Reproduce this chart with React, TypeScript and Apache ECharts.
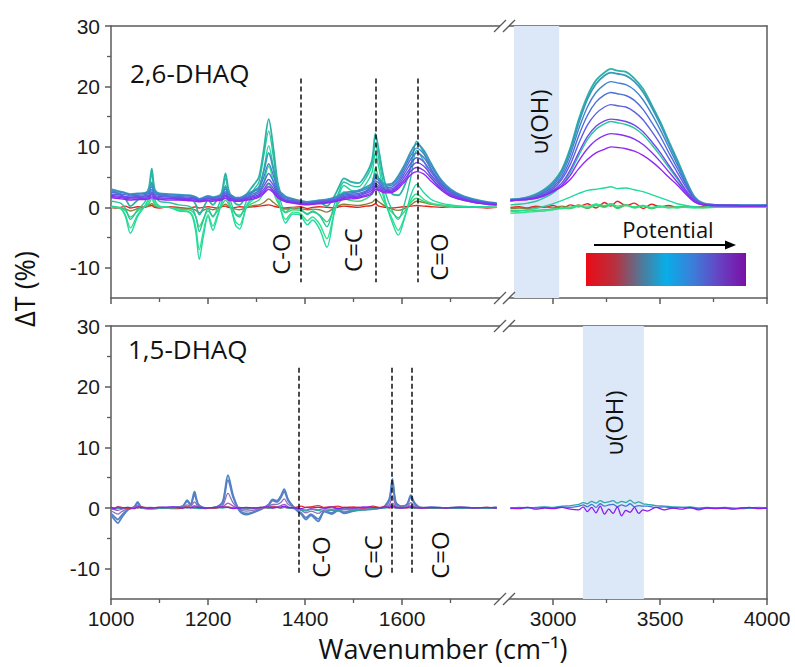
import React, { useEffect, useRef } from "react";
import * as echarts from "echarts";

// ---------------- DATA ----------------
// Wavenumber grid, fingerprint region (top panel, 2,6-DHAQ)
const XL = [
  1000, 1010, 1020, 1030, 1040, 1055, 1070, 1078,
  1084, 1090, 1100, 1120, 1140, 1160, 1168, 1175,
  1182, 1190, 1200, 1210, 1218, 1228, 1236, 1242,
  1250, 1257, 1265, 1280, 1295, 1305, 1315, 1325,
  1335, 1345, 1360, 1375, 1390, 1405, 1415, 1430,
  1445, 1460, 1470, 1480, 1495, 1510, 1525, 1538,
  1545, 1552, 1565, 1580, 1592, 1605, 1618, 1630,
  1645, 1660, 1680, 1700, 1725, 1750, 1775, 1795,
];

const TL0 = [
  0.1, -0.1, 0.0, 0.2, -0.1, 0.1, 0.0, 0.2,
  0.3, 0.0, -0.1, 0.1, 0.0, -0.2, 0.0, 0.1,
  -0.1, 0.0, 0.1, 0.0, -0.1, 0.1, 0.2, 0.0,
  -0.1, 0.0, 0.1, 0.0, 0.1, 0.2, 0.3, 0.4,
  0.2, 0.0, -0.1, 0.0, 0.1, -0.2, 0.0, 0.1,
  0.0, -0.1, 0.1, 0.2, 0.1, 0.0, 0.2, 0.3,
  0.6, 0.2, 0.0, -0.1, 0.0, 0.1, 0.2, 0.3,
  0.2, 0.1, 0.0, 0.1, 0.0, 0.0, -0.1, 0.0,
];
const TL1 = [
  -0.1, 0.0, -0.2, -0.3, -0.6, -0.2, 0.1, 0.3,
  0.6, 0.2, 0.0, 0.0, -0.1, -0.2, -0.3, -0.5,
  -0.9, -0.5, -0.2, -0.4, -0.2, 0.1, 0.5, 0.2,
  -0.1, -0.3, -0.4, 0.0, 0.3, 0.4, 0.8, 1.4,
  0.8, 0.2, -0.3, -0.1, -0.2, -0.4, -0.3, -0.4,
  -0.8, -0.1, 0.3, 0.5, 0.4, 0.3, 0.5, 0.8,
  1.3, 0.9, 0.2, -0.3, -0.5, -0.2, 0.4, 1.0,
  0.8, 0.5, 0.3, 0.2, 0.1, 0.1, 0.0, 0.0,
];
const TL2 = [
  0.0, 0.0, -0.1, -0.6, -1.6, -0.6, 0.1, 0.6,
  1.4, 0.5, 0.0, 0.0, -0.3, -0.4, -0.7, -1.6,
  -3.2, -2.0, -0.6, -1.4, -0.8, 0.3, 1.2, 0.6,
  -0.4, -1.1, -1.3, 0.1, 0.8, 1.2, 2.4, 3.8,
  2.4, 0.6, -0.9, -0.4, -0.5, -1.0, -0.8, -1.3,
  -2.4, -0.4, 0.8, 1.4, 1.1, 1.0, 1.4, 2.2,
  3.6, 2.6, 0.5, -0.9, -1.7, -0.7, 0.8, 1.5,
  1.0, 0.6, 0.3, 0.2, 0.1, 0.1, 0.0, 0.0,
];
const TL3 = [
  0.1, 0.0, -0.2, -1.3, -3.4, -1.2, 0.2, 1.0,
  2.6, 0.8, 0.1, 0.0, -0.5, -0.7, -1.3, -3.4,
  -7.0, -4.1, -1.2, -3.1, -1.6, 0.6, 2.4, 1.0,
  -0.8, -2.4, -2.9, 0.2, 1.4, 2.0, 4.2, 6.8,
  4.2, 1.0, -2.0, -0.8, -1.0, -2.2, -1.6, -2.8,
  -5.2, -0.8, 1.4, 2.6, 2.0, 1.8, 2.6, 4.0,
  6.5, 4.6, 0.8, -2.0, -3.8, -1.6, 1.2, 2.2,
  1.3, 0.7, 0.4, 0.2, 0.1, 0.1, 0.0, 0.0,
];
const TL4 = [
  0.2, 0.1, -0.1, -1.6, -4.3, -1.5, 0.3, 1.6,
  4.2, 1.4, 0.2, 0.0, -0.6, -0.8, -1.6, -4.2,
  -8.6, -5.0, -1.5, -3.8, -2.0, 0.9, 3.6, 1.5,
  -1.0, -3.0, -3.6, 0.4, 2.0, 3.0, 6.3, 10.2,
  6.4, 1.6, -2.6, -1.1, -1.3, -2.9, -2.1, -3.6,
  -6.6, -1.0, 2.0, 3.6, 2.8, 2.6, 3.8, 5.8,
  9.0, 6.6, 1.2, -2.6, -4.6, -1.8, 2.0, 3.8,
  2.4, 1.3, 0.7, 0.4, 0.2, 0.1, 0.1, 0.0,
];
const TL5 = [
  1.0, 0.9, 0.7, -0.2, -2.0, -0.4, 0.9, 2.6,
  5.6, 2.2, 1.0, 0.8, 0.4, 0.2, -0.2, -1.6,
  -4.0, -2.2, -0.2, -1.6, -0.4, 1.8, 4.8, 2.4,
  0.2, -1.2, -1.6, 1.2, 3.0, 4.2, 8.6, 12.6,
  8.2, 2.6, -0.8, 0.0, -0.2, -1.2, -0.6, -1.4,
  -3.2, 0.4, 2.6, 4.2, 3.6, 3.4, 4.8, 7.0,
  10.6, 8.0, 2.6, -0.6, -2.0, 0.6, 5.0, 9.4,
  7.6, 5.0, 3.0, 1.9, 1.2, 0.8, 0.5, 0.4,
];
const TL6 = [
  2.6, 2.4, 2.2, 1.4, 0.2, 1.2, 2.0, 3.2,
  6.4, 3.0, 2.0, 1.8, 1.6, 1.4, 1.2, 0.4,
  -1.2, -0.2, 1.2, 0.4, 1.2, 2.4, 5.6, 3.0,
  1.4, 0.6, 0.4, 2.2, 3.8, 5.0, 9.6, 14.6,
  9.6, 3.6, 1.0, 1.2, 1.0, 0.6, 1.0, 0.8,
  0.2, 1.8, 3.4, 4.8, 4.2, 4.0, 5.4, 7.8,
  12.2, 9.4, 4.0, 2.2, 2.0, 3.6, 6.8, 10.9,
  9.0, 6.2, 3.8, 2.6, 1.6, 1.1, 0.7, 0.6,
];
const TL7 = [
  3.0, 2.8, 2.6, 2.4, 2.2, 2.3, 2.4, 2.8,
  4.0, 2.8, 2.3, 2.2, 2.1, 2.0, 1.9, 1.7,
  1.4, 1.6, 1.9, 1.7, 1.8, 2.2, 3.4, 2.4,
  1.9, 1.6, 1.6, 2.2, 2.8, 3.4, 6.0, 9.0,
  6.2, 3.0, 1.8, 1.4, 1.1, 0.9, 1.0, 1.2,
  1.3, 1.6, 2.0, 2.4, 2.6, 2.8, 3.3, 4.0,
  5.6, 4.8, 3.8, 4.0, 5.2, 7.0, 9.2, 10.5,
  9.4, 7.2, 4.6, 3.0, 1.9, 1.3, 0.9, 0.7,
];
const TL8 = [
  2.8, 2.6, 2.5, 2.3, 2.1, 2.2, 2.3, 2.6,
  3.4, 2.5, 2.2, 2.1, 2.0, 1.9, 1.8, 1.6,
  1.4, 1.5, 1.8, 1.6, 1.7, 2.0, 3.0, 2.2,
  1.8, 1.5, 1.5, 2.0, 2.6, 3.1, 5.0, 7.2,
  5.2, 2.7, 1.6, 1.3, 1.0, 0.8, 0.9, 1.1,
  1.2, 1.5, 1.8, 2.2, 2.4, 2.6, 3.0, 3.7,
  5.0, 4.4, 3.5, 3.7, 4.8, 6.6, 8.6, 9.8,
  8.8, 6.8, 4.4, 2.8, 1.8, 1.2, 0.8, 0.6,
];
const TL9 = [
  2.5, 2.4, 2.2, 2.1, 1.9, 2.0, 2.1, 2.3,
  2.9, 2.2, 2.0, 1.9, 1.8, 1.7, 1.6, 1.5,
  1.3, 1.4, 1.6, 1.5, 1.6, 1.8, 2.6, 2.0,
  1.6, 1.4, 1.4, 1.8, 2.3, 2.7, 4.1, 5.6,
  4.2, 2.4, 1.4, 1.1, 0.9, 0.7, 0.8, 1.0,
  1.1, 1.3, 1.6, 2.0, 2.2, 2.3, 2.7, 3.4,
  4.4, 4.0, 3.2, 3.4, 4.4, 6.1, 8.0, 9.0,
  8.2, 6.3, 4.1, 2.6, 1.7, 1.1, 0.8, 0.6,
];
const TL10 = [
  2.2, 2.1, 2.0, 1.8, 1.7, 1.8, 1.9, 2.0,
  2.5, 2.0, 1.8, 1.7, 1.6, 1.5, 1.5, 1.4,
  1.2, 1.3, 1.5, 1.4, 1.4, 1.6, 2.3, 1.8,
  1.5, 1.3, 1.3, 1.6, 2.0, 2.4, 3.5, 4.6,
  3.6, 2.1, 1.2, 1.0, 0.8, 0.6, 0.7, 0.9,
  1.0, 1.2, 1.5, 1.8, 2.0, 2.1, 2.5, 3.1,
  4.0, 3.6, 3.0, 3.1, 4.0, 5.6, 7.3, 8.2,
  7.5, 5.8, 3.8, 2.4, 1.5, 1.0, 0.7, 0.5,
];
const TL11 = [
  2.0, 1.9, 1.8, 1.7, 1.6, 1.6, 1.7, 1.8,
  2.2, 1.8, 1.6, 1.5, 1.5, 1.4, 1.4, 1.3,
  1.1, 1.2, 1.4, 1.3, 1.3, 1.5, 2.0, 1.6,
  1.4, 1.2, 1.2, 1.5, 1.8, 2.1, 3.0, 4.0,
  3.1, 1.9, 1.1, 0.9, 0.7, 0.5, 0.6, 0.8,
  0.9, 1.1, 1.3, 1.6, 1.8, 1.9, 2.3, 2.8,
  3.6, 3.3, 2.8, 2.9, 3.7, 5.1, 6.6, 7.4,
  6.8, 5.3, 3.5, 2.2, 1.4, 0.9, 0.6, 0.5,
];
const TL12 = [
  1.8, 1.7, 1.6, 1.5, 1.4, 1.4, 1.5, 1.6,
  1.9, 1.6, 1.4, 1.4, 1.3, 1.3, 1.2, 1.2,
  1.0, 1.1, 1.2, 1.2, 1.2, 1.3, 1.8, 1.4,
  1.2, 1.1, 1.1, 1.3, 1.6, 1.9, 2.6, 3.4,
  2.7, 1.7, 1.0, 0.8, 0.6, 0.5, 0.5, 0.7,
  0.8, 1.0, 1.2, 1.5, 1.6, 1.7, 2.0, 2.5,
  3.3, 3.0, 2.6, 2.7, 3.4, 4.6, 6.0, 6.6,
  6.1, 4.8, 3.2, 2.0, 1.3, 0.8, 0.6, 0.4,
];
const TL13 = [
  1.6, 1.5, 1.4, 1.3, 1.2, 1.3, 1.3, 1.4,
  1.6, 1.4, 1.3, 1.2, 1.2, 1.1, 1.1, 1.0,
  0.9, 1.0, 1.1, 1.0, 1.1, 1.2, 1.5, 1.2,
  1.1, 1.0, 1.0, 1.2, 1.4, 1.7, 2.3, 3.0,
  2.4, 1.5, 0.9, 0.7, 0.5, 0.4, 0.5, 0.6,
  0.7, 0.9, 1.1, 1.3, 1.4, 1.5, 1.8, 2.2,
  3.0, 2.8, 2.4, 2.5, 3.1, 4.2, 5.4, 5.9,
  5.5, 4.3, 2.9, 1.8, 1.2, 0.8, 0.5, 0.4,
];

// O-H stretching region (top panel)
const XR = [
  2800, 2840, 2880, 2920, 2960, 3000, 3040,
  3080, 3120, 3160, 3200, 3240, 3270, 3300,
  3340, 3380, 3420, 3460, 3500, 3540, 3580,
  3620, 3660, 3700, 3760, 3840, 3920, 4000,
];
const TR0 = [0.0, 0.1, -0.1, 0.2, 0.0, 0.3, -0.2, 0.4, 0.1, 0.6, -0.1, 0.8, 0.2, 1.0, 0.3, 0.7, -0.2, 0.5, 0.1, 0.3, 0.0, 0.2, 0.0, 0.1, 0.0, 0.0, 0.0, 0.0];
const TR1 = [-0.2, -0.1, -0.2, 0.0, 0.1, -0.1, 0.2, 0.0, 0.4, -0.2, 0.5, 0.1, 0.6, -0.1, 0.4, 0.0, 0.3, -0.2, 0.2, 0.0, 0.1, 0.0, 0.1, 0.0, 0.0, 0.0, 0.0, 0.0];
const TR2 = [-0.5, -0.5, -0.6, -0.5, -0.4, -0.3, -0.1, -0.2, 0.2, -0.1, 0.3, 0.0, 0.4, -0.2, 0.3, -0.1, 0.2, -0.2, 0.1, 0.0, -0.1, 0.1, 0.0, -0.1, 0.0, 0.1, 0.0, 0.0];
const TR3 = [-1.0, -0.9, -0.8, -0.7, -0.6, -0.4, -0.2, 0.0, 0.3, 0.2, 0.5, 0.3, 0.6, 0.2, 0.4, 0.1, 0.3, 0.0, 0.2, -0.1, 0.1, 0.0, -0.1, 0.0, 0.1, 0.0, 0.0, 0.0];
const TR4 = [-0.7, -0.6, -0.4, -0.2, 0.2, 0.6, 1.1, 1.7, 2.3, 2.8, 3.0, 3.2, 3.4, 3.1, 3.2, 2.9, 2.6, 2.1, 1.6, 1.1, 0.6, 0.3, 0.1, 0.0, 0.1, 0.0, 0.1, 0.0];
const TR5 = [0.4, 0.5, 0.7, 1.0, 1.6, 2.4, 3.6, 5.8, 8.6, 11.2, 12.9, 13.8, 14.2, 14.0, 13.7, 13.1, 12.0, 10.4, 8.6, 6.6, 4.7, 2.7, 1.1, 0.4, 0.3, 0.2, 0.2, 0.3];
const TR6 = [1.3, 1.4, 1.7, 2.2, 3.0, 4.2, 6.2, 9.8, 14.6, 18.4, 21.0, 22.3, 22.9, 22.6, 22.4, 21.3, 19.6, 17.0, 14.2, 11.0, 7.9, 4.6, 1.8, 0.7, 0.4, 0.3, 0.3, 0.3];
const TR7 = [1.3, 1.4, 1.6, 2.1, 2.9, 4.0, 6.0, 9.4, 14.0, 17.9, 20.4, 21.8, 22.3, 22.1, 21.8, 20.8, 19.1, 16.6, 13.8, 10.7, 7.6, 4.4, 1.7, 0.7, 0.4, 0.3, 0.3, 0.3];
const TR8 = [1.2, 1.3, 1.5, 1.9, 2.7, 3.7, 5.5, 8.7, 13.0, 16.6, 19.0, 20.3, 20.8, 20.6, 20.3, 19.4, 17.8, 15.5, 12.9, 10.0, 7.1, 4.1, 1.6, 0.6, 0.4, 0.3, 0.3, 0.3];
const TR9 = [1.2, 1.3, 1.5, 1.8, 2.5, 3.4, 5.0, 7.9, 11.9, 15.2, 17.4, 18.6, 19.0, 18.8, 18.5, 17.7, 16.2, 14.1, 11.8, 9.1, 6.5, 3.8, 1.5, 0.6, 0.4, 0.3, 0.3, 0.3];
const TR10 = [1.2, 1.3, 1.4, 1.7, 2.3, 3.1, 4.6, 7.1, 10.6, 13.6, 15.5, 16.6, 17.0, 16.8, 16.6, 15.8, 14.5, 12.6, 10.5, 8.2, 5.8, 3.4, 1.4, 0.5, 0.3, 0.3, 0.3, 0.3];
const TR11 = [1.1, 1.2, 1.4, 1.6, 2.1, 2.8, 4.0, 6.2, 9.1, 11.7, 13.4, 14.3, 14.6, 14.5, 14.2, 13.6, 12.5, 10.9, 9.1, 7.0, 5.0, 2.9, 1.2, 0.5, 0.3, 0.3, 0.2, 0.3];
const TR12 = [1.1, 1.2, 1.3, 1.5, 2.0, 2.7, 3.6, 5.3, 7.7, 9.7, 11.1, 11.9, 12.2, 12.1, 11.8, 11.3, 10.4, 9.1, 7.6, 5.9, 4.2, 2.5, 1.0, 0.4, 0.3, 0.3, 0.2, 0.3];
const TR13 = [1.1, 1.2, 1.3, 1.5, 1.9, 2.6, 3.4, 4.6, 6.4, 7.9, 9.0, 9.6, 10.0, 9.9, 9.7, 9.3, 8.6, 7.6, 6.4, 5.0, 3.7, 2.2, 0.9, 0.4, 0.3, 0.3, 0.2, 0.3];

// Fingerprint region (bottom panel, 1,5-DHAQ)
const XB = [
  1000, 1008, 1014, 1022, 1035, 1048, 1055, 1062,
  1080, 1100, 1130, 1148, 1157, 1164, 1172, 1180,
  1195, 1215, 1230, 1241, 1252, 1265, 1278, 1292,
  1310, 1325, 1333, 1342, 1350, 1357, 1365, 1380,
  1392, 1402, 1412, 1427, 1440, 1455, 1468, 1480,
  1500, 1520, 1540, 1555, 1565, 1574, 1580, 1587,
  1598, 1610, 1618, 1626, 1640, 1660, 1690, 1720,
  1750, 1775, 1795,
];
const BL0 = [
  -1.2, -2.0, -2.5, -1.6, -0.3, 0.2, 1.0, 0.2,
  -0.1, 0.0, 0.1, 0.3, 1.3, 0.6, 2.7, 0.6,
  0.0, 0.1, 1.0, 5.4, 2.0, -0.5, -1.1, -0.8,
  -0.2, 0.6, 1.4, 1.2, 2.0, 3.1, 1.4, -0.2,
  -1.0, -1.9, -1.2, -2.2, -0.6, -1.0, -0.4, -0.9,
  -0.5, -0.3, -0.2, 0.0, 0.4, 1.6, 4.8, 1.0,
  0.3, 0.6, 2.1, 0.8, 0.0, 0.1, 0.0, 0.1,
  0.0, 0.0, 0.1,
];
const BL1 = [
  -0.9, -1.5, -1.9, -1.2, -0.2, 0.1, 0.8, 0.1,
  -0.1, 0.0, 0.1, 0.3, 1.1, 0.5, 2.2, 0.5,
  0.0, 0.1, 0.8, 4.6, 1.7, -0.4, -0.9, -0.7,
  -0.1, 0.5, 1.2, 1.0, 1.7, 2.7, 1.2, -0.1,
  -0.8, -1.6, -1.0, -1.8, -0.5, -0.8, -0.3, -0.7,
  -0.4, -0.2, -0.1, 0.0, 0.3, 1.3, 4.1, 0.8,
  0.2, 0.5, 1.8, 0.7, 0.0, 0.1, 0.0, 0.1,
  0.0, 0.0, 0.1,
];
const BL2 = [
  -0.5, -0.8, -1.0, -0.6, -0.1, 0.0, 0.4, 0.0,
  0.0, 0.0, 0.1, 0.1, 0.5, 0.3, 1.0, 0.2,
  0.0, 0.0, 0.4, 2.4, 0.8, -0.2, -0.5, -0.4,
  0.0, 0.3, 0.6, 0.6, 0.9, 1.5, 0.6, 0.0,
  -0.4, -0.8, -0.5, -0.9, -0.3, -0.4, -0.2, -0.3,
  -0.2, -0.1, 0.0, 0.0, 0.2, 0.6, 2.0, 0.4,
  0.1, 0.2, 0.9, 0.3, 0.0, 0.0, 0.0, 0.0,
  0.0, 0.0, 0.0,
];
const BL3 = [
  -0.2, -0.3, -0.4, -0.2, 0.0, 0.0, 0.2, 0.0,
  0.0, 0.1, 0.0, 0.1, 0.2, 0.1, 0.4, 0.1,
  0.0, 0.1, 0.2, 0.8, 0.3, -0.1, -0.2, -0.1,
  0.0, 0.1, 0.3, 0.2, 0.4, 0.6, 0.2, 0.0,
  -0.2, -0.3, -0.2, -0.3, -0.1, -0.2, 0.0, -0.1,
  0.0, 0.0, 0.0, 0.0, 0.1, 0.3, 0.8, 0.2,
  0.0, 0.1, 0.4, 0.1, 0.0, 0.0, 0.0, 0.0,
  0.0, 0.0, 0.0,
];
const BL4 = [
  0.1, 0.0, 0.2, 0.1, -0.1, 0.1, 0.0, 0.2,
  0.0, 0.1, -0.1, 0.0, 0.2, 0.1, 0.0, 0.1,
  -0.1, 0.0, 0.1, 0.2, 0.0, 0.1, -0.1, 0.0,
  0.1, 0.0, 0.2, 0.1, 0.0, 0.1, 0.0, 0.1,
  0.3, 0.1, 0.2, 0.4, 0.1, 0.2, 0.3, 0.1,
  0.2, 0.0, 0.3, 0.1, 0.2, 0.0, 0.1, 0.0,
  0.1, 0.0, 0.1, 0.0, 0.1, 0.0, 0.0, 0.1,
  0.0, 0.1, 0.0,
];
const BL5 = [
  0.0, -0.2, -0.1, 0.0, 0.1, 0.0, 0.1, 0.0,
  0.1, 0.0, 0.0, 0.1, 0.0, 0.1, 0.0, -0.1,
  0.0, 0.1, 0.0, 0.1, 0.0, -0.1, 0.0, 0.0,
  0.1, 0.0, 0.0, 0.1, 0.0, 0.1, 0.0, -0.1,
  -0.3, -0.5, -0.2, -0.4, -0.6, -0.3, -0.5, -0.2,
  -0.4, -0.3, -0.1, 0.0, 0.0, 0.1, 0.2, 0.0,
  0.0, 0.1, 0.0, 0.0, 0.1, 0.0, 0.0, 0.0,
  0.0, 0.0, 0.0,
];
const BL6 = [
  0.1, -0.1, 0.2, 0.0, 0.1, -0.1, 0.2, 0.1,
  0.0, 0.1, 0.2, 0.0, 0.1, 0.0, 0.2, 0.1,
  0.0, 0.1, 0.2, 0.1, -0.1, 0.0, 0.1, 0.0,
  0.1, 0.2, 0.0, 0.1, 0.2, 0.3, 0.1, 0.0,
  -0.1, 0.1, 0.0, 0.1, 0.0, 0.2, -0.1, 0.1,
  0.0, 0.2, 0.1, 0.0, 0.2, 0.1, 0.4, 0.1,
  0.0, 0.1, 0.2, 0.1, 0.0, 0.1, 0.0, 0.1,
  0.0, 0.1, 0.0,
];

// O-H stretching region (bottom panel)
const XBR = [
  2800, 2840, 2880, 2920, 2960, 3000, 3040, 3080,
  3120, 3140, 3160, 3180, 3200, 3220, 3240, 3260,
  3280, 3300, 3320, 3340, 3360, 3380, 3400, 3420,
  3440, 3480, 3520, 3560, 3600, 3640, 3680, 3720,
  3760, 3800, 3840, 3880, 3920, 3960, 4000,
];
const BR0 = [
  0.0, 0.1, 0.0, 0.1, 0.2, 0.1, 0.3, 0.4,
  0.6, 0.9, 0.7, 1.1, 0.8, 1.2, 0.9, 1.0,
  1.2, 0.8, 1.1, 0.9, 1.3, 0.8, 1.0, 0.7,
  0.6, 0.4, 0.3, 0.2, 0.1, 0.2, 0.0, 0.1,
  0.0, 0.1, 0.0, -0.1, 0.0, 0.1, 0.0,
];
const BR1 = [
  -0.1, 0.0, 0.1, 0.0, 0.1, 0.0, 0.2, 0.1,
  0.3, 0.5, 0.2, 0.6, 0.1, 0.7, 0.3, 0.5,
  0.6, 0.2, 0.5, 0.3, 0.7, 0.2, 0.4, 0.3,
  0.3, 0.1, 0.2, 0.0, 0.1, 0.0, -0.1, 0.0,
  0.0, 0.0, -0.1, 0.0, 0.0, 0.0, 0.0,
];
const BR2 = [
  0.0, -0.1, 0.1, -0.2, 0.0, -0.1, 0.1, -0.2,
  -0.3, 0.2, -0.6, 0.1, -0.8, 0.3, -1.0, -0.2,
  -0.9, 0.2, -1.3, -0.4, -0.7, 0.1, -0.9, -0.3,
  -0.5, 0.1, -0.3, 0.0, -0.2, 0.1, -0.3, 0.0,
  -0.1, 0.0, -0.2, 0.0, 0.1, -0.1, 0.0,
];

// Tick values and annotations
const X_LEFT_MAJOR = [1000, 1200, 1400, 1600];
const X_LEFT_MINOR = [1100, 1300, 1500, 1700];
const X_RIGHT_MAJOR = [3000, 3500, 4000];
const X_RIGHT_MINOR = [3250, 3750];
const Y_MAJOR = [-10, 0, 10, 20, 30];
const Y_MINOR = [-5, 5, 15, 25];
const TOP_BONDS = [1392, 1545, 1633];
const BOTTOM_BONDS = [1386, 1579, 1620];
const TOP_OH_BAND = [2817, 3028];
const BOTTOM_OH_BAND = [3139, 3424];

const TOP_COLORS = [
  "#e5261f", "#8a7f3a", "#3fd276", "#2ee38c", "#22d9a0", "#27c69e", "#2bb3a6",
  "#3c98bb", "#3f84cc", "#4d6fd8", "#5e5fe2", "#7049ea", "#8236ef", "#9426f3",
];
const BOTTOM_COLORS = ["#4a86c2", "#5a7ec8", "#8a72b8", "#9a60c8", "#e0302a", "#2aa79c", "#8a1cf0"];
const BOTTOM_RIGHT_COLORS = ["#2aa9a6", "#4a70d8", "#8a1cf0"];

const TL = [TL0, TL1, TL2, TL3, TL4, TL5, TL6, TL7, TL8, TL9, TL10, TL11, TL12, TL13];
const TR = [TR0, TR1, TR2, TR3, TR4, TR5, TR6, TR7, TR8, TR9, TR10, TR11, TR12, TR13];
const BL = [BL0, BL1, BL2, BL3, BL4, BL5, BL6];
const BR = [BR0, BR1, BR2];

// ---------------- CHART ----------------
const AXIS_COLOR = "#5b5b5b";
const TICK_FONT = "'Liberation Sans', Arial, sans-serif";
const TEXT_FONT = "'Open Sans', 'Noto Sans', 'DejaVu Sans', sans-serif";

const zip = (xs: number[], ys: number[]) => xs.map((x, i) => [x, ys[i]]);
const plain = (v: number) => String(v);

function xAxes(grid: number, min: number, max: number, major: number[], minor: number[], labels: boolean) {
  const base = { type: "value", gridIndex: grid, min, max, splitLine: { show: false } };
  return [
    {
      ...base,
      position: "bottom",
      axisLine: { show: true, onZero: false, lineStyle: { color: AXIS_COLOR, width: 1.5 } },
      axisTick: { show: true, customValues: major, length: 6, inside: false, lineStyle: { color: AXIS_COLOR, width: 1.5 } },
      axisLabel: {
        show: labels, customValues: major, margin: 9, formatter: plain,
        fontFamily: TICK_FONT, fontSize: 21, color: "#1a1a1a",
      },
    },
    {
      ...base,
      position: "bottom",
      axisLine: { show: false, onZero: false },
      axisTick: { show: true, customValues: minor, length: 4, lineStyle: { color: AXIS_COLOR, width: 1.3 } },
      axisLabel: { show: false },
    },
    {
      ...base,
      position: "top",
      axisLine: { show: true, onZero: false, lineStyle: { color: AXIS_COLOR, width: 1.5 } },
      axisTick: { show: false },
      axisLabel: { show: false },
    },
  ];
}

function yAxes(leftGrid: number) {
  const base = { type: "value", min: -15, max: 30, splitLine: { show: false } };
  return [
    {
      ...base,
      gridIndex: leftGrid,
      position: "left",
      axisLine: { show: true, onZero: false, lineStyle: { color: AXIS_COLOR, width: 1.5 } },
      axisTick: { show: true, customValues: Y_MAJOR, length: 6, lineStyle: { color: AXIS_COLOR, width: 1.5 } },
      axisLabel: {
        show: true, customValues: Y_MAJOR, margin: 11, formatter: plain,
        fontFamily: TICK_FONT, fontSize: 21, color: "#1a1a1a",
      },
    },
    {
      ...base,
      gridIndex: leftGrid,
      position: "left",
      axisLine: { show: false, onZero: false },
      axisTick: { show: true, customValues: Y_MINOR, length: 4, lineStyle: { color: AXIS_COLOR, width: 1.3 } },
      axisLabel: { show: false },
    },
    {
      ...base,
      gridIndex: leftGrid + 1,
      position: "right",
      axisLine: { show: true, onZero: false, lineStyle: { color: AXIS_COLOR, width: 1.5 } },
      axisTick: { show: false },
      axisLabel: { show: false },
    },
  ];
}

function lineSeries(xs: number[], ys: number[], color: string, xi: number, yi: number, width = 1.4) {
  return {
    type: "line",
    xAxisIndex: xi,
    yAxisIndex: yi,
    data: zip(xs, ys),
    showSymbol: false,
    symbol: "none",
    smooth: 0.3,
    silent: true,
    z: 2,
    lineStyle: { color, width },
    itemStyle: { color },
  };
}

function bondLines(xi: number, yi: number, xs: number[], yTop: number, yBot: number) {
  return {
    type: "line",
    xAxisIndex: xi,
    yAxisIndex: yi,
    data: [],
    silent: true,
    z: 6,
    markLine: {
      silent: true,
      symbol: ["none", "none"],
      animation: false,
      label: { show: false },
      lineStyle: { color: "#111", width: 1.5, type: [5, 3] },
      data: xs.map((x) => [{ coord: [x, yTop] }, { coord: [x, yBot] }]),
    },
  };
}

function band(xi: number, yi: number, range: number[]) {
  return {
    type: "line",
    xAxisIndex: xi,
    yAxisIndex: yi,
    data: [],
    silent: true,
    z: 1,
    markArea: {
      silent: true,
      animation: false,
      itemStyle: { color: "#dce7f7", opacity: 1 },
      data: [[{ xAxis: range[0] }, { xAxis: range[1] }]],
    },
  };
}

function text(t: string, x: number, y: number, size: number, rot = 0, align = "center") {
  return {
    type: "text",
    x,
    y,
    rotation: rot,
    z: 100,
    silent: true,
    style: {
      text: t,
      fontSize: size,
      fontFamily: TEXT_FONT,
      fill: "#111",
      align,
      verticalAlign: "middle",
    },
  };
}

function breakMark(y: number) {
  return [
    { type: "rect", z: 50, silent: true, shape: { x: 500, y: y - 3, width: 9, height: 6 }, style: { fill: "#fff" } },
    { type: "line", z: 51, silent: true, shape: { x1: 494, y1: y + 6, x2: 506, y2: y - 6 }, style: { stroke: AXIS_COLOR, lineWidth: 1.3 } },
    { type: "line", z: 51, silent: true, shape: { x1: 503, y1: y + 6, x2: 515, y2: y - 6 }, style: { stroke: AXIS_COLOR, lineWidth: 1.3 } },
  ];
}

function buildOption() {
  const xA = [
    ...xAxes(0, 1000, 1810, X_LEFT_MAJOR, X_LEFT_MINOR, false),
    ...xAxes(1, 2770, 4000, X_RIGHT_MAJOR, X_RIGHT_MINOR, false),
    ...xAxes(2, 1000, 1810, X_LEFT_MAJOR, X_LEFT_MINOR, true),
    ...xAxes(3, 2770, 4000, X_RIGHT_MAJOR, X_RIGHT_MINOR, true),
  ];
  const yA = [...yAxes(0), ...yAxes(2)];

  const series: any[] = [];
  series.push(band(3, 2, TOP_OH_BAND));
  series.push(band(9, 5, BOTTOM_OH_BAND));
  TL.forEach((ys, i) => series.push(lineSeries(XL, ys, TOP_COLORS[i], 0, 0, i === 6 || i === 7 ? 1.8 : 1.4)));
  TR.forEach((ys, i) => series.push(lineSeries(XR, ys, TOP_COLORS[i], 3, 2, i === 6 || i === 7 ? 1.8 : 1.4)));
  BL.forEach((ys, i) => series.push(lineSeries(XB, ys, BOTTOM_COLORS[i], 6, 3, i < 2 ? 1.8 : 1.3)));
  BR.forEach((ys, i) => series.push(lineSeries(XBR, ys, BOTTOM_RIGHT_COLORS[i], 9, 5, 1.3)));
  series.push(bondLines(0, 0, TOP_BONDS, 21.3, -12.4));
  series.push(bondLines(6, 3, BOTTOM_BONDS, 23.1, -10.7));

  const R = Math.PI / 2;
  const graphic: any[] = [
    text("2,6-DHAQ", 130, 73, 26, 0, "left"),
    text("1,5-DHAQ", 128, 349, 26, 0, "left"),
    text("C-O", 280, 254, 24, R),
    text("C=C", 352, 250, 24, R),
    text("C=O", 438, 257, 24, R),
    text("C-O", 320, 557, 24, R),
    text("C=C", 372, 557, 24, R),
    text("C=O", 439, 555, 24, R),
    text("υ(OH)", 538, 122, 24, R),
    text("υ(OH)", 613, 423, 24, R),
    text("Potential", 668, 229, 22),
    text("ΔT (%)", 24, 289, 27, R),
    text("Wavenumber (cm⁻¹)", 443, 648, 27),
    {
      type: "rect",
      z: 100,
      silent: true,
      shape: { x: 586, y: 253, width: 160, height: 33 },
      style: {
        fill: {
          type: "linear", x: 0, y: 0, x2: 1, y2: 0,
          colorStops: [
            { offset: 0, color: "#ec0a16" },
            { offset: 0.18, color: "#b8303f" },
            { offset: 0.35, color: "#4f7a9a" },
            { offset: 0.5, color: "#08aee8" },
            { offset: 0.68, color: "#3f7ad8" },
            { offset: 0.85, color: "#6a3cc0" },
            { offset: 1, color: "#7a10a6" },
          ],
        },
      },
    },
    { type: "line", z: 100, silent: true, shape: { x1: 594, y1: 245, x2: 728, y2: 245 }, style: { stroke: "#000", lineWidth: 2 } },
    { type: "polygon", z: 100, silent: true, shape: { points: [[736, 245], [725, 240.5], [725, 249.5]] }, style: { fill: "#000" } },
    ...breakMark(26),
    ...breakMark(298),
    ...breakMark(326),
    ...breakMark(599),
  ];

  return {
    animation: false,
    backgroundColor: "#ffffff",
    grid: [
      { left: 111, top: 26, width: 393, height: 272, outerBoundsMode: "none" },
      { left: 504, top: 26, width: 263, height: 272, outerBoundsMode: "none" },
      { left: 111, top: 326, width: 393, height: 273, outerBoundsMode: "none" },
      { left: 504, top: 326, width: 263, height: 273, outerBoundsMode: "none" },
    ],
    xAxis: xA,
    yAxis: yA,
    series,
    graphic,
  };
}

export default function App() {
  const ref = useRef<HTMLDivElement>(null);
  useEffect(() => {
    if (!ref.current) return;
    const chart = echarts.init(ref.current, null, { renderer: "svg" });
    chart.setOption(buildOption() as any);
    return () => chart.dispose();
  }, []);
  return <div ref={ref} style={{ position: "absolute", left: 0, top: 0, width: 795, height: 667 }} />;
}
